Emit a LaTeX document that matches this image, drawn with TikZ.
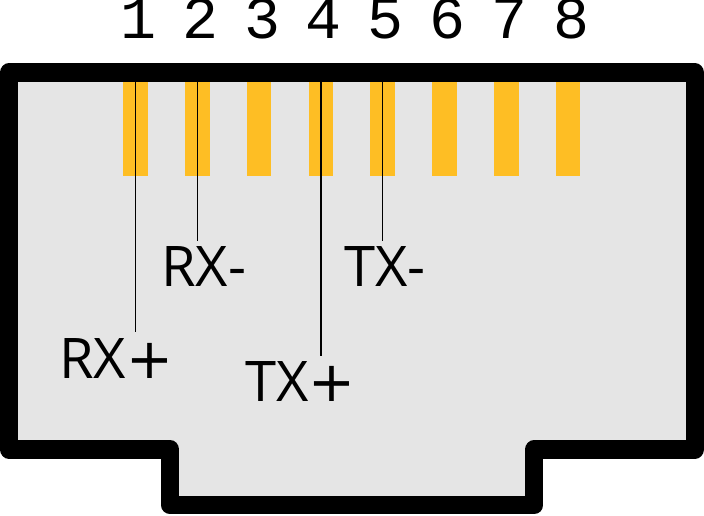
\documentclass[tikz,border=0pt]{standalone}
\usepackage{fontspec}
\setmainfont{Open Sans}
\newfontfamily\pinfont{Liberation Mono}
\newfontfamily\plusfont{DejaVu Sans}
\definecolor{shell}{RGB}{229,229,229}
\definecolor{gold}{RGB}{254,190,36}
\begin{document}
\begin{tikzpicture}[x=1pt,y=1pt,
    contact/.style={fill=gold,minimum width=24.5pt,minimum height=94pt,inner sep=0},
    lead/.style={line width=1.5pt,shorten >=6pt}]
    \useasboundingbox (0,0) rectangle (704,515);
    % jack outline
    \draw[fill=shell,line width=18.4pt,line join=round] (9.2,442.5) -- (694.7,442.5) -- (694.7,65.5)
        -- (534.2,65.5) -- (534.2,9.8) -- (170.2,9.8) -- (170.2,65.5) -- (9.2,65.5) -- cycle;
    \foreach \i in {1,...,8}{
        \node[contact] (p\i) at ({135.5+61.8*(\i-1)},386.3) {};
        \node[anchor=base,font=\pinfont\fontsize{60}{60}\selectfont] (n\i) at ({138.5+61.8*(\i-1)},476.7) {\i};
    }
    \node[anchor=base west,inner sep=0,font=\fontsize{56}{56}\selectfont] (rxp) at (59,136.7) {RX{\plusfont+}};
    \node[anchor=base west,inner sep=0,font=\fontsize{56}{56}\selectfont] (rxm) at (161,228.3) {RX-};
    \node[anchor=base west,inner sep=0,font=\fontsize{56}{56}\selectfont] (txp) at (245,113.3) {TX{\plusfont+}};
    \node[anchor=base west,inner sep=0,font=\fontsize{56}{56}\selectfont] (txm) at (344,228.3) {TX-};
    \draw[lead] (p1.north) -- (p1.north |- rxp.north);
    \draw[lead] (p2.north) -- (p2.north |- rxm.north);
    \draw[lead] (p4.north) -- (p4.north |- txp.north);
    \draw[lead] (p5.north) -- (p5.north |- txm.north);
\end{tikzpicture}
\end{document}
